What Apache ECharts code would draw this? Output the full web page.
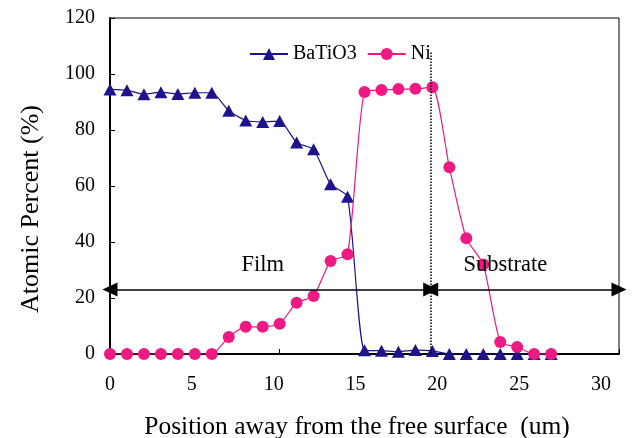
<!DOCTYPE html>
<html><head><meta charset="utf-8">
<script src="https://cdn.jsdelivr.net/npm/echarts@6/dist/echarts.min.js"></script>
<style>html,body{margin:0;padding:0;background:#fff}#c{width:643px;height:438px}</style>
</head><body><div id="c"></div>
<script>
const positions = [0,1,2,3,4,5,6,7,8,9,10,11,12,13,14,15,16,17,18,19,20,21,22,23,24,25,26];
const batio3 = [94.5,94.2,92.8,93.5,92.9,93.3,93.3,86.9,83.4,82.9,83.2,75.5,73.1,60.6,56.2,1.3,1.2,0.8,1.4,1.1,0,0,0,0,0,0,0];
const ni = [0,0,0,0,0,0,0,6.1,9.7,9.7,10.8,18.3,20.7,33.2,35.6,93.6,94.3,94.6,94.7,95.3,66.7,41.3,32,4.3,2.5,0,0];
const xTicks = {min:0, max:30, interval:5};
const xLabelSpan = 31.1;
const yTicks = {min:0, max:120, interval:20};
const boundary = 18.9;
const arrowY = 23;
const dividerTop = 108;
const filmLabel = {text:'Film', x:9.0, y:31.6};
const substrateLabel = {text:'Substrate', x:23.3, y:31.6};

const font = 'Liberation Serif';
const chart = echarts.init(document.getElementById('c'));
chart.setOption({
  animation:false,
  backgroundColor:'#fff',
  textStyle:{fontFamily:font},
  grid:{left:110, right:24, top:18, bottom:84, show:true, borderColor:'#000', borderWidth:1, backgroundColor:'transparent'},
  legend:{
    left:244, top:39, itemWidth:38, itemHeight:15, itemGap:10,
    textStyle:{fontFamily:font, fontSize:20, color:'#000'},
    data:['BaTiO3','Ni']
  },
  xAxis:[{
    type:'value', min:xTicks.min, max:xTicks.max, interval:xTicks.interval,
    axisLine:{lineStyle:{color:'#000', width:2}},
    axisTick:{inside:true, length:5, lineStyle:{color:'#000'}},
    axisLabel:{show:false},
    splitLine:{show:false}
  },{
    type:'value', position:'bottom', min:xTicks.min, max:xLabelSpan, interval:xTicks.interval,
    axisLine:{show:false}, axisTick:{show:false},
    axisLabel:{fontFamily:font, fontSize:20, color:'#000', margin:21, showMaxLabel:false,
      formatter:v=> v<=xTicks.max ? String(v) : ''},
    splitLine:{show:false}
  }],
  yAxis:{
    type:'value', min:yTicks.min, max:yTicks.max, interval:yTicks.interval,
    axisLine:{show:true, lineStyle:{color:'#000', width:2}},
    axisTick:{show:true, inside:true, length:5, lineStyle:{color:'#000'}},
    axisLabel:{fontFamily:font, fontSize:20, color:'#000', margin:15},
    splitLine:{show:false}
  },
  graphic:[
    {type:'text', x:357, y:427, style:{text:'Position away from the free surface  (um)', font:'25.5px "Liberation Serif"', fill:'#000', align:'center', verticalAlign:'middle'}},
    {type:'text', x:31, y:209, rotation:Math.PI/2, style:{text:'Atomic Percent (%)', font:'26px "Liberation Serif"', fill:'#000', align:'center', verticalAlign:'middle'}}
  ],
  series:[
    {
      name:'BaTiO3', type:'line', smooth:0.2,
      data:positions.map((p,i)=>[p,batio3[i]]),
      symbol:'triangle', symbolSize:[13,12],
      itemStyle:{color:'#1F138C'},
      lineStyle:{color:'#1F138C', width:1.2},
      z:3
    },
    {
      name:'Ni', type:'line', smooth:0.2,
      data:positions.map((p,i)=>[p,ni[i]]),
      symbol:'circle', symbolSize:12,
      itemStyle:{color:'#EC1A82'},
      lineStyle:{color:'#EC1A82', width:1.2},
      z:4,
      markLine:{
        silent:true, animation:false,
        symbol:['triangle','triangle'], symbolSize:[14,15],
        label:{show:false},
        lineStyle:{color:'#000', width:1.5, type:'solid'},
        data:[
          [{coord:[xTicks.min, arrowY]},{coord:[boundary, arrowY]}],
          [{coord:[boundary, arrowY]},{coord:[xTicks.max, arrowY]}],
          [{coord:[boundary, 0], symbol:'none', lineStyle:{type:'dotted', width:1.5, color:'#000'}},{coord:[boundary, dividerTop], symbol:'none'}]
        ]
      },
      markPoint:{
        silent:true, symbol:'circle', symbolSize:0,
        label:{show:true, position:'inside', fontFamily:font, fontSize:22.5, color:'#000', formatter:p=>p.name},
        data:[
          {name:filmLabel.text, coord:[filmLabel.x, filmLabel.y]},
          {name:substrateLabel.text, coord:[substrateLabel.x, substrateLabel.y]}
        ]
      }
    }
  ]
});
</script></body></html>
